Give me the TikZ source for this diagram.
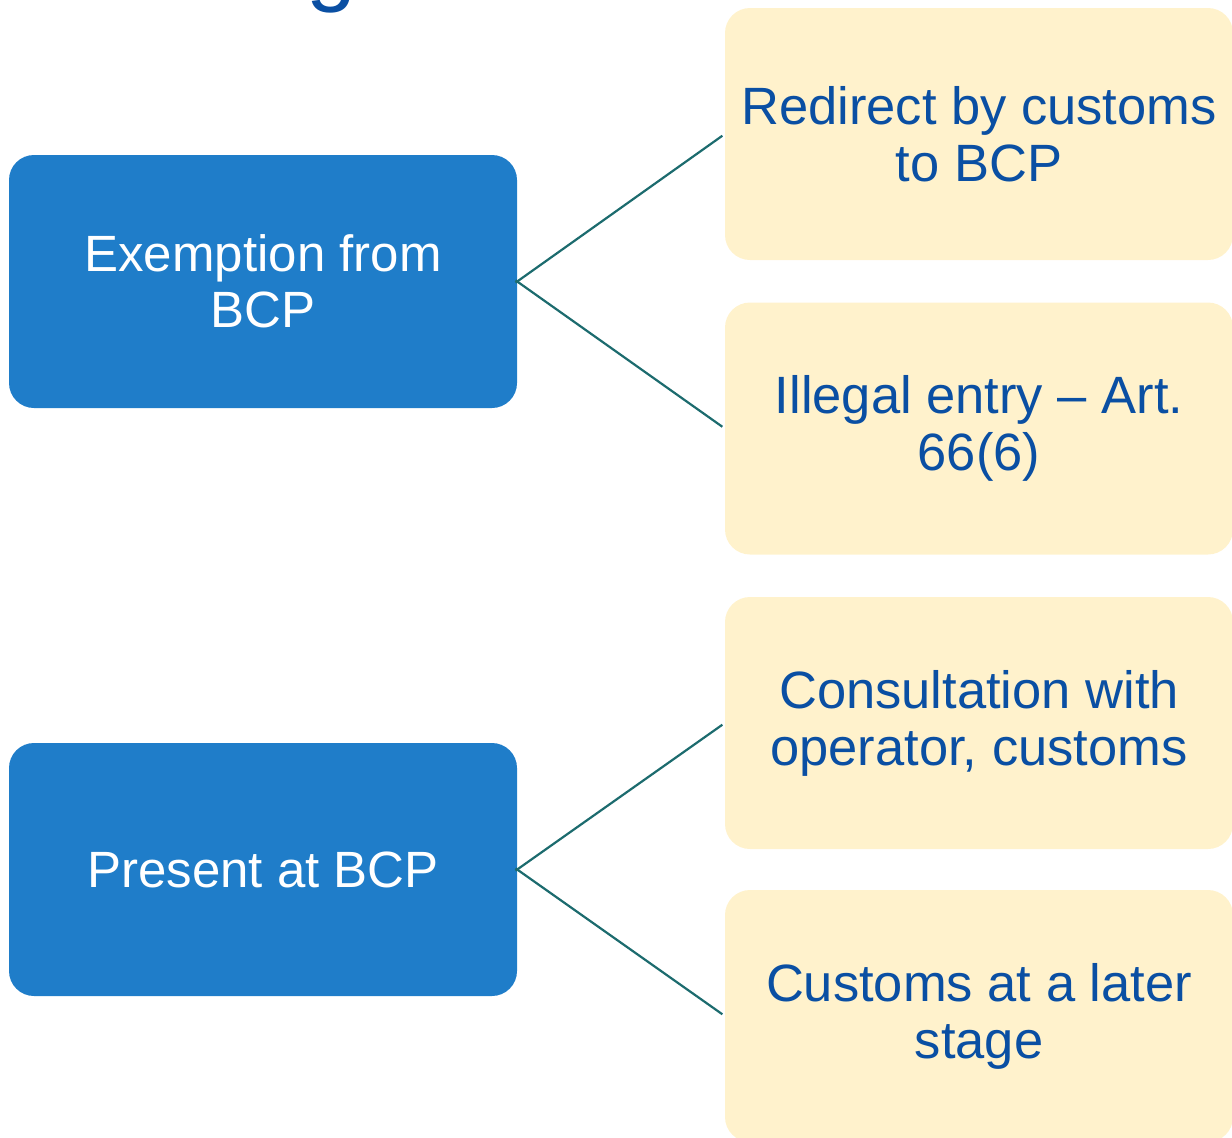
\documentclass[tikz,border=0pt]{standalone}
\usepackage{fontspec}
\setmainfont{Liberation Sans}
\definecolor{boxblue}{HTML}{1F7DC9}
\definecolor{cream}{HTML}{FFF2CC}
\definecolor{textblue}{HTML}{0A4FA3}
\definecolor{linkteal}{HTML}{1C6B6E}
\begin{document}
\begin{tikzpicture}[x=1pt,y=-1pt,
  bluebox/.style={rectangle, rounded corners=25pt, fill=boxblue, text=white,
    minimum width=508pt, minimum height=253pt, inner sep=0pt, align=center,
    font=\fontsize{51}{56}\selectfont},
  creambox/.style={rectangle, rounded corners=25pt, fill=cream, text=textblue,
    minimum width=508pt, minimum height=252pt, inner sep=0pt, align=center,
    font=\fontsize{52.5}{57}\selectfont},
  link/.style={draw=linkteal, line width=2.2pt}]
\clip (0,0) rectangle (1232,1138);
\useasboundingbox (0,0) rectangle (1232,1138);
\node[anchor=base west, inner sep=0pt, text=textblue, font=\fontsize{90}{90}\selectfont] (title) at (306,-6) {g};
\node[bluebox] (ex) at (263,281.5) {Exemption from\\BCP};
\node[bluebox] (pr) at (263,869.5) {Present at BCP};
\node[creambox] (r1) at (979,134) {Redirect by customs\\to BCP};
\node[creambox] (r2) at (979,428.5) {Illegal entry -- Art.\\66(6)};
\node[creambox] (r3) at (979,723) {Consultation with\\operator, customs};
\node[creambox] (r4) at (979,1016) {Customs at a later\\stage};
\draw[link, shorten <=-2pt, shorten >=3pt] (ex.east) -- (r1.west);
\draw[link, shorten <=-2pt, shorten >=3pt] (ex.east) -- (r2.west);
\draw[link, shorten <=-2pt, shorten >=3pt] (pr.east) -- (r3.west);
\draw[link, shorten <=-2pt, shorten >=3pt] (pr.east) -- (r4.west);
\end{tikzpicture}
\end{document}
